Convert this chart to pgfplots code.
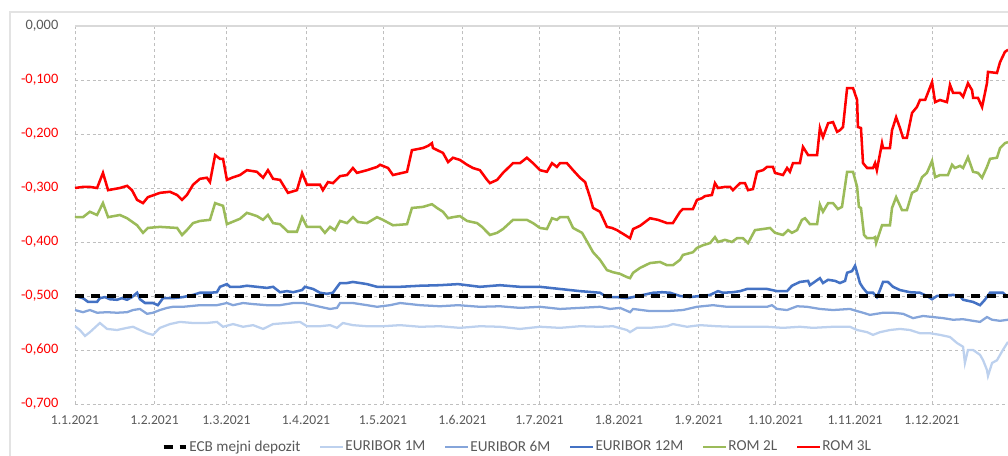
\documentclass[border=0pt]{standalone}
\usepackage{pgfplots}
\pgfplotsset{compat=1.18}
\usepackage{fontspec}
\setmainfont{Carlito}
\newfontfamily\negfont[Color=FF0000]{Carlito}
\newfontfamily\lblfont[Color=595959]{Carlito}
\definecolor{e1}{HTML}{BDD1EE}
\definecolor{e6}{HTML}{85A5DA}
\definecolor{e12}{HTML}{4472C4}
\definecolor{r2}{HTML}{9BBB59}
\definecolor{r3}{HTML}{FF0000}
\definecolor{lbl}{HTML}{595959}
\definecolor{gridc}{HTML}{BFBFBF}
\begin{document}
\begin{tikzpicture}
\draw[gray!22, line width=0.8pt] (7.5pt,-5pt) rectangle (770pt,333pt);
\begin{axis}[
  at={(56.25pt,39pt)}, anchor=south west,
  scale only axis, width=699.75pt, height=283.5pt,
  xmin=0, xmax=363.6, ymin=-0.7, ymax=0,
  axis line style={draw=none},
  major tick length=0pt,
  grid=major,
  grid style={gridc, dash pattern=on 2.2pt off 2.2pt, line width=0.6pt},
  xtick={0,31,59,90,120,151,181,212,243,273,304,334},
  xticklabels={1.1.2021,1.2.2021,1.3.2021,1.4.2021,1.5.2021,1.6.2021,1.7.2021,1.8.2021,1.9.2021,1.10.2021,1.11.2021,1.12.2021},
  ytick={-0.7,-0.6,-0.5,-0.4,-0.3,-0.2,-0.1},
  yticklabels={-0{,}700,-0{,}600,-0{,}500,-0{,}400,-0{,}300,-0{,}200,-0{,}100},
  every y tick label/.append style={font=\negfont\fontsize{10.8}{12}\selectfont, text=red, xshift=-9pt},
  extra y ticks={0},
  extra y tick labels={{\lblfont 0{,}000}},
  extra y tick style={grid style={solid, gray!30, line width=1.2pt}},
  every x tick label/.append style={font=\lblfont\fontsize{10.2}{12}\selectfont, text=lbl, yshift=-5pt},
  legend columns=6,
  legend style={at={(0.474,-0.1138)}, anchor=center, draw=none, fill=none,
    font=\lblfont\fontsize{11.4}{13}\selectfont, text=lbl,
    nodes={inner xsep=1pt},
    /tikz/every even column/.append style={column sep=13pt}},
  legend image code/.code={\draw[#1] (0pt,0pt) -- (17pt,0pt);},
]
\addlegendimage{black, line width=2.4pt, dash pattern=on 7pt off 5pt}
\addlegendentry{ECB mejni depozit}
% EURIBOR 1M
\addplot[e1, line width=1.7pt] coordinates {
(0,-0.556)(1.9,-0.563)(3.9,-0.574)(5.8,-0.567)(9.7,-0.550)(12.5,-0.561)(16.4,-0.563)(20.3,-0.559)(22.6,-0.557)(25.3,-0.563)(28.1,-0.569)(30.4,-0.572)(33.1,-0.559)(37,-0.552)(40.9,-0.548)(46,-0.550)(51.4,-0.550)(55.3,-0.548)(57.7,-0.557)(61.6,-0.552)(65.5,-0.557)(69.4,-0.554)(73.3,-0.561)(77.2,-0.552)(82.6,-0.550)(87.7,-0.548)(90.4,-0.556)(95.5,-0.556)(99.4,-0.554)(102.1,-0.559)(104.4,-0.550)(108.3,-0.554)(113.8,-0.556)(120,-0.556)(126.7,-0.554)(134.5,-0.557)(142.2,-0.556)(150,-0.559)(157.8,-0.556)(165.6,-0.557)(173.4,-0.561)(181.2,-0.557)(189,-0.559)(196.8,-0.556)(204.6,-0.557)(209.7,-0.556)(215.1,-0.563)(216.3,-0.567)(219,-0.559)(224.1,-0.559)(230.7,-0.556)(233,-0.552)(238.5,-0.557)(243.6,-0.554)(250.2,-0.556)(256.4,-0.557)(263.1,-0.557)(269.7,-0.557)(275.9,-0.559)(282.5,-0.557)(287.6,-0.559)(295.4,-0.557)(302,-0.557)(304.8,-0.563)(308.7,-0.567)(311,-0.572)(313.7,-0.567)(317.6,-0.563)(321.5,-0.561)(325.4,-0.563)(329.3,-0.569)(333.2,-0.569)(337.1,-0.572)(341,-0.576)(343.7,-0.587)(346.1,-0.594)(346.8,-0.624)(348,-0.600)(350,-0.600)(352.7,-0.609)(353.9,-0.619)(355.4,-0.637)(355.8,-0.648)(357.4,-0.624)(359.3,-0.619)(361.6,-0.600)(363.6,-0.585)
};
\addlegendentry{EURIBOR 1M}
% EURIBOR 6M
\addplot[e6, line width=1.7pt] coordinates {
(0,-0.526)(3.1,-0.530)(5.8,-0.526)(8.6,-0.531)(12.5,-0.530)(16.4,-0.531)(20.3,-0.530)(22.6,-0.526)(25.3,-0.524)(28.1,-0.533)(30.4,-0.531)(33.1,-0.526)(35.9,-0.522)(38.2,-0.520)(42.1,-0.520)(48.7,-0.517)(55.3,-0.517)(59.2,-0.513)(61.6,-0.517)(65.5,-0.513)(69.4,-0.515)(74.8,-0.517)(79.9,-0.517)(85,-0.513)(88.9,-0.513)(92.8,-0.517)(95.5,-0.520)(99.4,-0.524)(102.1,-0.522)(103.3,-0.513)(108.3,-0.513)(113.8,-0.517)(117.7,-0.520)(122.8,-0.517)(126.7,-0.513)(134.5,-0.517)(142.2,-0.519)(149.3,-0.517)(157.8,-0.520)(165.6,-0.519)(173.4,-0.522)(181.2,-0.520)(189,-0.524)(196.8,-0.522)(204.6,-0.520)(208.5,-0.524)(212.4,-0.522)(216.3,-0.530)(217.5,-0.524)(224.1,-0.528)(230.7,-0.528)(236.9,-0.526)(242.4,-0.520)(248.6,-0.517)(254.1,-0.520)(259.2,-0.520)(264.2,-0.520)(269.7,-0.520)(271.6,-0.517)(273.6,-0.524)(277.5,-0.526)(281.4,-0.519)(285.3,-0.520)(290.3,-0.524)(295.4,-0.526)(302,-0.524)(304.8,-0.528)(307.1,-0.531)(309.8,-0.535)(314.9,-0.531)(318.8,-0.531)(322.7,-0.533)(326.6,-0.541)(330.5,-0.537)(334.4,-0.539)(338.3,-0.541)(342.2,-0.544)(346.1,-0.543)(350,-0.546)(352.7,-0.548)(355.4,-0.539)(357.4,-0.544)(360.5,-0.546)(363.6,-0.544)
};
\addlegendentry{EURIBOR 6M}
% EURIBOR 12M
\addplot[e12, line width=1.9pt] coordinates {
(0,-0.500)(3.1,-0.504)(5.1,-0.511)(8.6,-0.511)(9.7,-0.504)(11.7,-0.502)(13.6,-0.506)(16.4,-0.507)(18.3,-0.504)(20.3,-0.507)(22.2,-0.502)(24.2,-0.494)(25.3,-0.506)(27.3,-0.513)(30.4,-0.513)(32.3,-0.517)(34.3,-0.504)(38.2,-0.504)(42.1,-0.502)(46,-0.498)(48.7,-0.494)(52.6,-0.494)(55.3,-0.493)(56.5,-0.483)(59.2,-0.478)(60.4,-0.483)(64.3,-0.483)(67,-0.481)(70.9,-0.483)(74.8,-0.485)(77.2,-0.483)(79.9,-0.493)(82.6,-0.491)(85,-0.493)(88.5,-0.489)(89.6,-0.483)(92.8,-0.487)(95.5,-0.494)(98.2,-0.496)(100.5,-0.494)(103.3,-0.476)(106,-0.476)(108.3,-0.474)(111.1,-0.476)(113.8,-0.478)(117.7,-0.483)(121.6,-0.483)(126.7,-0.483)(134.5,-0.481)(142.2,-0.480)(149.3,-0.478)(157.8,-0.483)(165.6,-0.480)(173.4,-0.483)(181.2,-0.483)(189,-0.487)(196.8,-0.491)(204.6,-0.494)(207.3,-0.502)(211.2,-0.502)(215.1,-0.504)(217.5,-0.502)(221.4,-0.498)(225.3,-0.494)(228.8,-0.493)(231.9,-0.494)(235.8,-0.500)(239.7,-0.502)(243.6,-0.500)(247.5,-0.498)(250.6,-0.491)(252.5,-0.494)(256.4,-0.493)(259.2,-0.491)(261.9,-0.487)(265.8,-0.487)(269.7,-0.487)(273.6,-0.491)(277.5,-0.491)(279.4,-0.481)(282.5,-0.474)(285.7,-0.472)(286.4,-0.480)(290.3,-0.467)(291.5,-0.476)(293.5,-0.470)(296.2,-0.472)(298.1,-0.476)(300.1,-0.472)(300.9,-0.457)(302.8,-0.454)(304,-0.444)(304.8,-0.457)(305.9,-0.476)(307.1,-0.485)(308.7,-0.494)(311,-0.494)(312.5,-0.502)(313.7,-0.489)(314.9,-0.474)(316.8,-0.474)(318.8,-0.483)(321.5,-0.489)(325.4,-0.493)(329.3,-0.494)(332,-0.500)(334,-0.506)(335.9,-0.500)(342.2,-0.498)(344.9,-0.500)(346.1,-0.507)(350,-0.511)(352.7,-0.517)(354.6,-0.507)(356.6,-0.494)(360.5,-0.494)(361.6,-0.494)(363.6,-0.502)
};
\addlegendentry{EURIBOR 12M}
% ROM 2L
\addplot[r2, line width=1.9pt] coordinates {
(0,-0.354)(3.1,-0.354)(5.8,-0.344)(8.6,-0.350)(10.9,-0.328)(12.9,-0.354)(17.5,-0.350)(20.3,-0.356)(24.2,-0.369)(26.5,-0.383)(28.4,-0.374)(33.1,-0.372)(39.8,-0.374)(41.7,-0.387)(43.6,-0.378)(46,-0.365)(48.7,-0.361)(52.6,-0.359)(54.6,-0.328)(57.7,-0.333)(59.2,-0.367)(64.3,-0.357)(67,-0.346)(70.9,-0.352)(73.3,-0.359)(75.2,-0.350)(77.2,-0.365)(79.9,-0.367)(83,-0.381)(86.5,-0.381)(88.5,-0.354)(90.4,-0.372)(95.5,-0.372)(97.4,-0.383)(99.4,-0.372)(101.3,-0.378)(103.3,-0.361)(106,-0.365)(108.3,-0.354)(110.3,-0.363)(113.8,-0.365)(117.7,-0.354)(120,-0.359)(123.9,-0.369)(129.4,-0.367)(131.3,-0.337)(135.6,-0.335)(139.1,-0.330)(141.1,-0.337)(143.4,-0.344)(145.4,-0.356)(147.3,-0.354)(150,-0.352)(152.8,-0.361)(156.7,-0.365)(158.6,-0.372)(161.7,-0.387)(164.5,-0.383)(166.8,-0.376)(170.7,-0.359)(176.1,-0.359)(178.5,-0.365)(181.2,-0.374)(183.9,-0.376)(185.9,-0.356)(187.8,-0.359)(189,-0.354)(192.1,-0.354)(194.1,-0.374)(197.6,-0.383)(199.9,-0.402)(201.9,-0.419)(204.6,-0.433)(207.3,-0.452)(209.7,-0.456)(212.4,-0.459)(215.1,-0.465)(216.3,-0.467)(217.5,-0.457)(220.2,-0.448)(224.1,-0.439)(228,-0.437)(230.7,-0.443)(233,-0.443)(235.8,-0.433)(236.9,-0.424)(240.8,-0.419)(242.4,-0.411)(244.7,-0.406)(247.5,-0.402)(249.4,-0.391)(250.6,-0.400)(253.3,-0.396)(256,-0.400)(258,-0.393)(260.3,-0.393)(262.3,-0.402)(265,-0.378)(268.1,-0.376)(270.9,-0.374)(272.8,-0.383)(275.9,-0.387)(277.9,-0.378)(279.4,-0.383)(281.4,-0.378)(283.3,-0.359)(284.5,-0.356)(286.4,-0.367)(289.2,-0.367)(290.3,-0.331)(291.5,-0.344)(293.5,-0.328)(295.4,-0.328)(297.3,-0.339)(298.9,-0.335)(300.9,-0.270)(303.2,-0.270)(304.8,-0.298)(305.5,-0.335)(306.3,-0.337)(307.5,-0.387)(308.7,-0.393)(311,-0.393)(311.8,-0.391)(312.2,-0.402)(314.5,-0.369)(317.6,-0.369)(318.4,-0.337)(320,-0.317)(322.3,-0.341)(324.2,-0.341)(326.2,-0.309)(328.1,-0.304)(330.1,-0.280)(332,-0.272)(334,-0.250)(335.2,-0.280)(337.1,-0.276)(340.2,-0.276)(341.8,-0.257)(342.9,-0.263)(344.9,-0.259)(346.1,-0.263)(348,-0.243)(350,-0.270)(351.9,-0.272)(353.5,-0.281)(355.4,-0.261)(356.6,-0.246)(359.3,-0.244)(360.5,-0.226)(362.4,-0.217)(363.6,-0.215)
};
\addlegendentry{ROM 2L}
% ROM 3L
\addplot[r3, line width=1.9pt] coordinates {
(0,-0.300)(3.1,-0.298)(5.8,-0.298)(8.6,-0.300)(10.9,-0.272)(12.9,-0.304)(17.5,-0.300)(20.3,-0.296)(22.2,-0.304)(24.2,-0.322)(26.5,-0.328)(28.4,-0.317)(33.1,-0.309)(37,-0.307)(39.8,-0.313)(41.7,-0.322)(43.6,-0.313)(46,-0.294)(48.7,-0.283)(51.4,-0.281)(52.6,-0.289)(54.6,-0.239)(56.5,-0.246)(57.7,-0.246)(59.2,-0.285)(61.2,-0.281)(64.3,-0.276)(67,-0.267)(70.9,-0.270)(73.3,-0.281)(75.2,-0.267)(77.2,-0.283)(79.9,-0.285)(83,-0.309)(86.5,-0.304)(88.5,-0.272)(90.4,-0.294)(95.5,-0.294)(96.6,-0.304)(98.6,-0.289)(100.5,-0.291)(103.3,-0.278)(106,-0.276)(108.3,-0.263)(109.9,-0.272)(113.8,-0.267)(117.7,-0.261)(118.9,-0.257)(122,-0.263)(123.9,-0.276)(129.4,-0.270)(131.3,-0.230)(135.6,-0.226)(137.6,-0.222)(139.1,-0.217)(139.5,-0.226)(143.4,-0.235)(145.4,-0.252)(147.3,-0.244)(150,-0.248)(152.8,-0.257)(155.1,-0.263)(157.8,-0.267)(160.6,-0.285)(161.7,-0.291)(164.5,-0.285)(166.8,-0.272)(170.7,-0.254)(173.4,-0.254)(176.1,-0.244)(178.5,-0.254)(181.2,-0.267)(183.9,-0.270)(185.9,-0.254)(187.8,-0.261)(189,-0.254)(191.7,-0.254)(194.1,-0.267)(196.8,-0.281)(198.8,-0.289)(200.7,-0.317)(201.9,-0.337)(204.6,-0.344)(207.3,-0.372)(209.3,-0.374)(211.2,-0.378)(214.3,-0.387)(216.3,-0.393)(217.5,-0.376)(220.2,-0.370)(224.1,-0.356)(227.2,-0.359)(230.7,-0.365)(233,-0.365)(235.8,-0.344)(236.9,-0.339)(240.8,-0.339)(242.4,-0.322)(244.3,-0.319)(245.5,-0.315)(248.2,-0.313)(249.4,-0.291)(250.6,-0.300)(253.3,-0.298)(255.3,-0.298)(256.4,-0.304)(259.2,-0.291)(261.1,-0.291)(262.3,-0.304)(264.2,-0.302)(265.8,-0.270)(268.1,-0.267)(269.7,-0.261)(272,-0.261)(272.8,-0.272)(275.9,-0.276)(277.5,-0.263)(278.6,-0.270)(279.8,-0.254)(282.5,-0.254)(283.7,-0.224)(285.7,-0.239)(289.2,-0.239)(290.3,-0.189)(291.5,-0.206)(293.5,-0.180)(295.4,-0.178)(297,-0.196)(298.1,-0.193)(299.3,-0.187)(300.9,-0.115)(303.2,-0.115)(304.8,-0.137)(305.1,-0.187)(306.3,-0.189)(307.1,-0.254)(308.7,-0.263)(311,-0.263)(311.8,-0.254)(312.5,-0.267)(314.5,-0.217)(314.9,-0.226)(317.6,-0.226)(318.4,-0.193)(320,-0.169)(321.5,-0.189)(322.7,-0.207)(324.2,-0.207)(326.2,-0.161)(328.1,-0.150)(329.3,-0.137)(331.3,-0.137)(334,-0.104)(335.2,-0.141)(337.1,-0.137)(339.8,-0.141)(341,-0.109)(342.2,-0.124)(344.9,-0.124)(346.1,-0.131)(348,-0.106)(349.6,-0.119)(350,-0.133)(351.9,-0.133)(353.5,-0.150)(355.4,-0.106)(355.8,-0.085)(359.3,-0.087)(360.5,-0.067)(362.4,-0.048)(363.6,-0.044)
};
\addlegendentry{ROM 3L}
% ECB deposit rate
\addplot[black, line width=2.4pt, dash pattern=on 7pt off 5pt, forget plot] coordinates {(0,-0.5)(363.6,-0.5)};
\end{axis}
\pgfresetboundingbox
\useasboundingbox (0,0) rectangle (756pt,342pt);
\end{tikzpicture}
\end{document}
